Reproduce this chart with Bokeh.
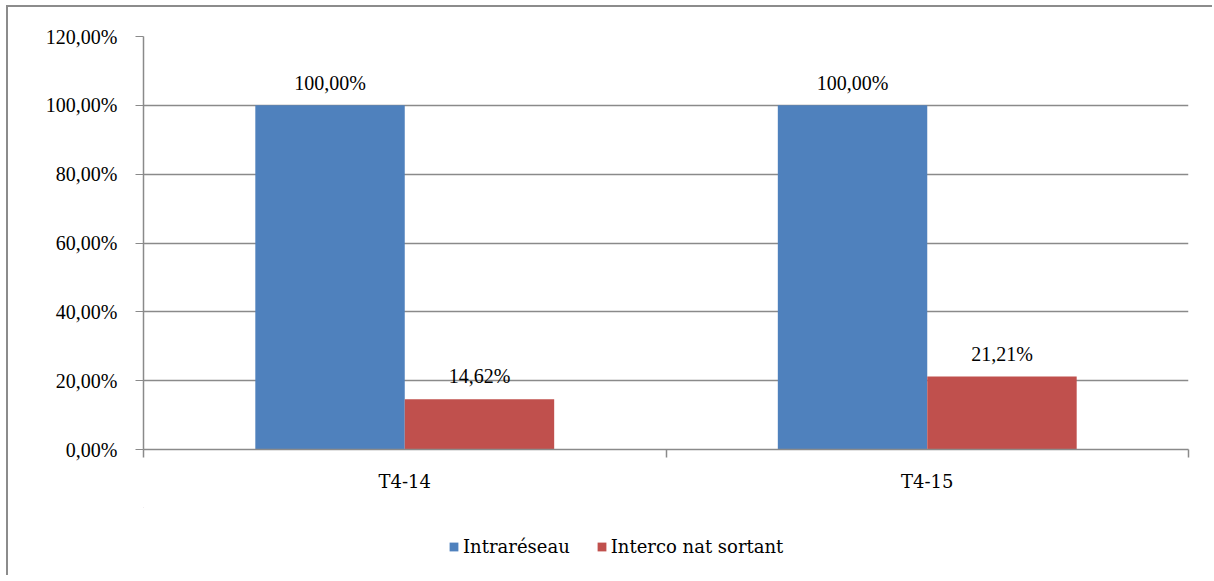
from bokeh.plotting import figure
from bokeh.layouts import column
from bokeh.models import (ColumnDataSource, FixedTicker, LabelSet, Legend, LegendItem,
                          Range1d)
from bokeh.core.properties import value
from bokeh.transform import dodge
from bokeh.embed import file_html
from bokeh.resources import INLINE

categories = ["T4-14", "T4-15"]
series_names = ["Intraréseau", "Interco nat sortant"]
intrareseau = [100.00, 100.00]
interco = [14.62, 21.21]
y_ticks = [0, 20, 40, 60, 80, 100, 120]

NUM_FONT = "Liberation Serif"
NUM_FS = "20px"
TXT_FONT = "DejaVu Serif"
TXT_FS = "18px"
BLUE = "#4f81bd"
RED = "#c0504d"
GRID = "#8a8a8a"


def fmt(v):
    return f"{v:.2f}".replace(".", ",") + "%"


xc = [i + 0.5 for i in range(len(categories))]
src = ColumnDataSource(dict(
    x=xc,
    a=intrareseau,
    b=interco,
    la=[fmt(v) for v in intrareseau],
    lb=[fmt(v) for v in interco],
))

W = 1206
p = figure(width=W, height=500, output_backend="svg", toolbar_location=None,
           x_range=Range1d(0, len(categories)), y_range=Range1d(0, 120),
           min_border_left=135, min_border_right=26, min_border_top=29,
           min_border_bottom=58)
p.outline_line_color = None
p.background_fill_color = "white"
p.border_fill_color = "white"

bw = 0.286
ra = p.vbar(x=dodge("x", -bw / 2, range=p.x_range), top="a", width=bw, source=src,
            fill_color=BLUE, line_color=None)
rb = p.vbar(x=dodge("x", bw / 2, range=p.x_range), top="b", width=bw, source=src,
            fill_color=RED, line_color=None)

for col, lab, off, yo in (("a", "la", -bw / 2, 22), ("b", "lb", bw / 2, 23)):
    p.add_layout(LabelSet(x=dodge("x", off, range=p.x_range), y=col, text=lab, source=src,
                          text_align="center", text_baseline="middle", y_offset=yo,
                          text_font=value(NUM_FONT), text_font_size=value(NUM_FS),
                          text_color="black"))

# y axis
p.yaxis.ticker = FixedTicker(ticks=y_ticks, minor_ticks=[])
p.yaxis.major_label_overrides = {t: fmt(t) for t in y_ticks}
p.yaxis.major_label_text_font = NUM_FONT
p.yaxis.major_label_text_font_size = NUM_FS
p.yaxis.major_label_text_color = "black"
p.yaxis.major_tick_out = 8
p.yaxis.major_tick_in = 0
p.yaxis.major_label_standoff = 18
p.yaxis.axis_line_color = GRID
p.yaxis.major_tick_line_color = GRID
p.yaxis.axis_line_width = 1.5
p.ygrid.grid_line_color = GRID
p.ygrid.grid_line_width = 1.5
p.ygrid.ticker = FixedTicker(ticks=y_ticks)

# x axis: labels at category centres, ticks at category boundaries
p.xaxis.ticker = FixedTicker(ticks=xc, minor_ticks=list(range(len(categories) + 1)))
p.xaxis.major_label_overrides = {x: c for x, c in zip(xc, categories)}
p.xaxis.major_tick_out = 0
p.xaxis.major_tick_in = 0
p.xaxis.minor_tick_out = 8
p.xaxis.minor_tick_in = 0
p.xaxis.minor_tick_line_color = GRID
p.xaxis.minor_tick_line_width = 1.5
p.xaxis.axis_line_color = GRID
p.xaxis.axis_line_width = 1.5
p.xaxis.major_label_standoff = 13
p.xaxis.major_label_text_font = TXT_FONT
p.xaxis.major_label_text_font_size = TXT_FS
p.xaxis.major_label_text_color = "black"
p.xgrid.grid_line_color = None

# legend strip below the chart (proxy renderers kept outside the visible ranges)
p2 = figure(width=W, height=70, output_backend="svg", toolbar_location=None,
            x_range=Range1d(10, 11), y_range=Range1d(-2, -1),
            x_axis_type=None, y_axis_type=None,
            min_border_left=0, min_border_right=0, min_border_top=0, min_border_bottom=0)
p2.outline_line_color = None
p2.border_fill_color = "white"
p2.background_fill_color = "white"
proxy = ColumnDataSource(dict(x=xc[:1], a=intrareseau[:1], b=interco[:1]))
la_r = p2.vbar(x="x", top="a", width=0.1, source=proxy, fill_color=BLUE, line_color=None)
lb_r = p2.vbar(x="x", top="b", width=0.1, source=proxy, fill_color=RED, line_color=None)
legend = Legend(items=[LegendItem(label=series_names[0], renderers=[la_r]),
                       LegendItem(label=series_names[1], renderers=[lb_r])],
                orientation="horizontal", location=(305, 20),
                label_text_font=TXT_FONT, label_text_font_size=TXT_FS,
                label_text_color="black",
                glyph_width=11, glyph_height=11, label_standoff=4, spacing=26,
                padding=0, margin=0, border_line_color=None, background_fill_alpha=0)
p2.add_layout(legend, "center")

layout = column(p, p2, spacing=0)
layout.styles = {"margin-left": "8px", "margin-top": "7px",
                 "box-shadow": "-2px -2px 0 0 #8c8c8c", "background": "white"}

open("out.html", "w").write(file_html(layout, INLINE))
